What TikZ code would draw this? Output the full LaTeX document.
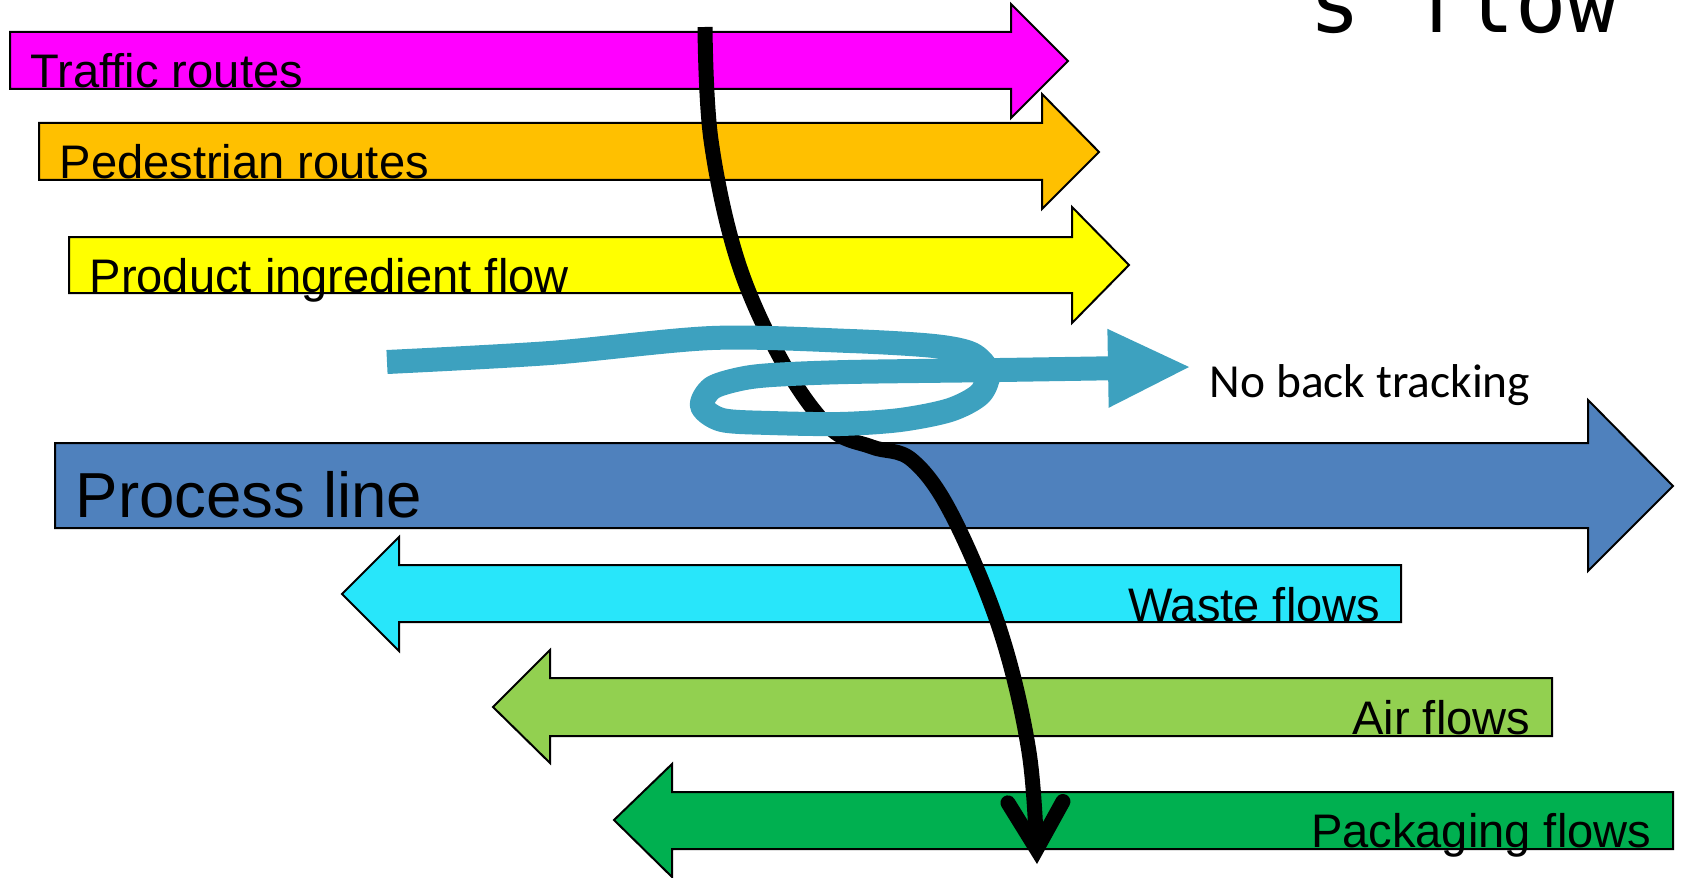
\documentclass[tikz,border=0pt]{standalone}
\usepackage{fontspec}
\setmainfont{Liberation Sans}
\newfontfamily\notefont{Carlito}
\newfontfamily\titlemono{DejaVu Sans Mono}
\usepackage{tikz}
\usetikzlibrary{arrows.meta}
\usepackage{xcolor}

\definecolor{trafficpink}{HTML}{FF00FF}
\definecolor{pedorange}{HTML}{FFC000}
\definecolor{ingredyellow}{HTML}{FFFF00}
\definecolor{processblue}{HTML}{4F81BD}
\definecolor{wastecyan}{HTML}{28E6FA}
\definecolor{airgreen}{HTML}{92D050}
\definecolor{packgreen}{HTML}{00B050}
\definecolor{trackblue}{HTML}{3DA1BF}

\tikzset{
  flowarrow/.style={draw=black, line width=0.2mm, line join=miter},
  flowlabel/.style={inner sep=0pt, font=\fontsize{13.4pt}{16pt}\selectfont},
}

\begin{document}
\begin{tikzpicture}[x=0.1mm, y=-0.1mm]
    \clip (0,0) rectangle (1685,877);

    % flows running to the right
    \draw[flowarrow, fill=trafficpink] (10,32) -- (1011,32) -- (1011,4) -- (1068,61) -- (1011,118) -- (1011,89) -- (10,89) -- cycle;
    \draw[flowarrow, fill=pedorange] (39,123) -- (1042,123) -- (1042,94) -- (1099,152) -- (1042,209) -- (1042,180) -- (39,180) -- cycle;
    \draw[flowarrow, fill=ingredyellow] (69,237) -- (1072,237) -- (1072,207) -- (1129,265) -- (1072,323) -- (1072,293) -- (69,293) -- cycle;
    \draw[flowarrow, fill=processblue] (55,443) -- (1588,443) -- (1588,400) -- (1673,486) -- (1588,571) -- (1588,528) -- (55,528) -- cycle;

    % flows running to the left
    \draw[flowarrow, fill=wastecyan] (1401,565) -- (399,565) -- (399,537) -- (342,594) -- (399,651) -- (399,622) -- (1401,622) -- cycle;
    \draw[flowarrow, fill=airgreen] (1552,678) -- (550,678) -- (550,650) -- (493,707) -- (550,763) -- (550,736) -- (1552,736) -- cycle;
    \draw[flowarrow, fill=packgreen] (1673,792) -- (672,792) -- (672,764) -- (614,820) -- (672,877) -- (672,849) -- (1673,849) -- cycle;

    \node[flowlabel, anchor=base west] (traffic) at (30,88) {Traffic routes};
    \node[flowlabel, anchor=base west] (pedestrian) at (59,179) {Pedestrian routes};
    \node[flowlabel, anchor=base west] (ingredient) at (89,292) {Product ingredient flow};
    \node[inner sep=0pt, anchor=base west, font=\fontsize{18.1pt}{22pt}\selectfont] (process) at (75,517) {Process line};
    \node[flowlabel, anchor=base east] (waste) at (1381,621) {Waste flows};
    \node[flowlabel, anchor=base east] (air) at (1531,734) {Air flows};
    \node[flowlabel, anchor=base east] (packaging) at (1652,847) {Packaging flows};

    \node[inner sep=0pt, anchor=base west, font=\notefont\fontsize{13.5pt}{16pt}\selectfont] (notrack) at (1209,397) {No back tracking};
    \node[inner sep=0pt, anchor=base west, font=\titlemono\fontsize{24.3pt}{29pt}\selectfont] (title) at (1309,33) {s flow};

    % route of the product through the plant
    \coordinate (routestart) at (705,27);
    \coordinate (routeend) at (1037,864);
    \draw[line width=1.5mm, -{Straight Barb[length=4.7mm, width=5.5mm, line cap=round, line join=miter]}]
        plot[smooth, tension=0.6] coordinates {(routestart) (711,140) (738,262) (783,363) (830,428) (872,447) (912,460) (952,515) (1000,630) (1029,752) (routeend)};

    % looping path
    \coordinate (loopstart) at (387,362);
    \coordinate (loopend) at (1189,367);
    \draw[trackblue, line width=2.4mm, line join=round, -{Triangle[length=8.1mm, width=7.9mm, line width=0pt]}]
        plot[smooth, tension=0.5] coordinates {(loopstart) (550,353) (712,338) (850,341) (934,346) (972,354) (988,372) (980,394) (950,410) (900,420) (840,424) (770,423) (722,420) (702,406) (712,388) (740,379) (772,375) (848,372) (1000,370) (loopend)};
\end{tikzpicture}
\end{document}
